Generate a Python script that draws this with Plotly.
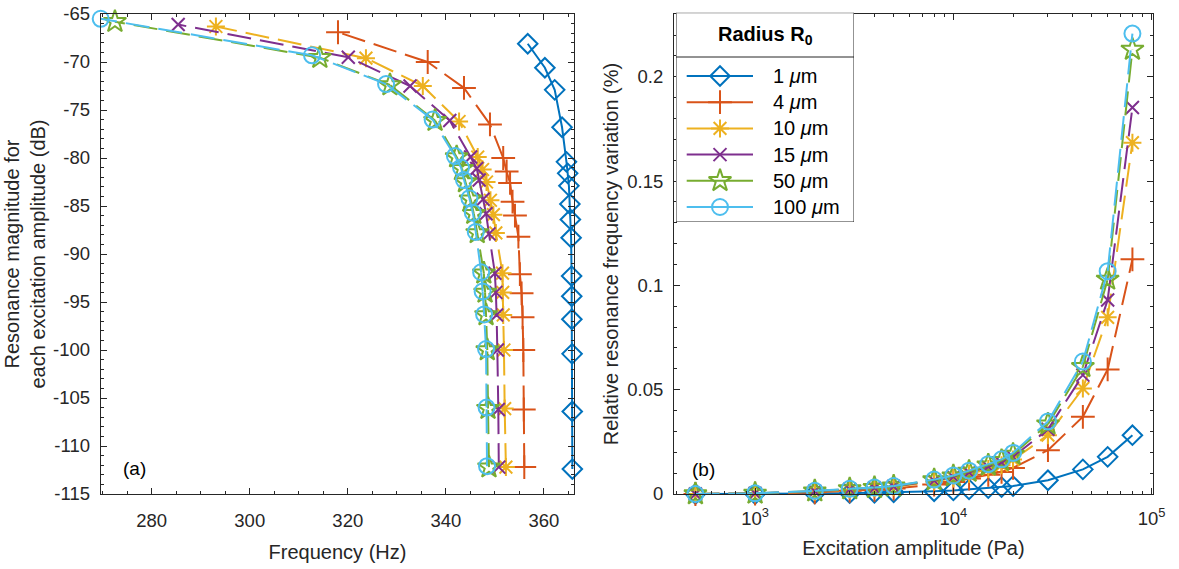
import plotly.graph_objects as go
import math

# ---------------- data ----------------
amplitudes = [500, 1000, 2000, 3000, 4000, 5000, 8000, 10000, 12000, 15000,
              17500, 20000, 30000, 45000, 60000, 80000]

series_names = ["1 <i>μ</i>m", "4 <i>μ</i>m", "10 <i>μ</i>m", "15 <i>μ</i>m",
                "50 <i>μ</i>m", "100 <i>μ</i>m"]
legend_title = "<b>Radius R<sub>0</sub></b>"

# (a) resonance frequency (Hz) and magnitude (dB) per excitation amplitude
freq_1um = [365.8, 365.78, 365.75, 365.7, 365.68, 365.65, 365.55, 365.4, 365.3, 365.1,
            364.85, 364.6, 363.7, 362.2, 360.2, 356.7]
mag_1um = [-112.4, -106.4, -100.4, -96.8, -94.4, -92.3, -88.3, -86.4, -84.8, -82.9,
           -81.6, -80.4, -76.8, -72.9, -70.6, -68.1]
freq_4um = [356.0, 355.9, 355.8, 355.65, 355.45, 355.1, 354.8, 354.1, 353.6, 353.1,
            352.4, 351.7, 349.0, 343.7, 336.3, 318.0]
mag_4um = [-112.2, -106.2, -100.0, -96.6, -94.1, -92.1, -88.2, -86.0, -84.55, -82.6,
           -81.4, -80.0, -76.5, -72.7, -70.0, -66.9]
freq_10um = [352.25, 352.0, 351.85, 351.7, 351.6, 351.55, 350.2, 349.7, 349.1, 348.3,
             347.5, 346.5, 342.7, 335.3, 323.7, 293.1]
mag_10um = [-112.2, -106.1, -100.0, -96.35, -94.0, -92.0, -87.8, -85.9, -84.4, -82.5,
            -81.2, -79.9, -76.2, -72.5, -69.6, -66.3]
freq_15um = [350.8, 350.7, 350.5, 350.35, 350.2, 350.0, 348.8, 348.2, 347.6, 346.8,
             346.3, 345.05, 340.8, 332.7, 320.1, 285.4]
mag_15um = [-112.2, -106.2, -100.0, -96.35, -94.0, -92.0, -87.9, -85.8, -84.3, -82.3,
            -81.1, -79.9, -76.1, -72.5, -69.5, -66.1]
freq_50um = [348.8, 348.6, 348.45, 348.2, 348.0, 347.75, 346.4, 345.7, 345.05, 344.0,
             343.3, 342.2, 337.8, 328.6, 314.3, 272.5]
mag_50um = [-112.2, -106.1, -100.0, -96.35, -94.0, -92.0, -87.8, -85.8, -84.3, -82.5,
            -81.1, -79.9, -76.1, -72.4, -69.55, -65.8]
freq_100um = [348.4, 348.3, 348.2, 347.8, 347.5, 347.2, 346.1, 345.5, 344.8, 343.7,
              343.1, 341.85, 337.3, 327.8, 312.7, 269.6]
mag_100um = [-112.1, -106.0, -99.9, -96.3, -93.9, -91.9, -87.7, -85.7, -84.2, -82.3,
             -81.0, -79.8, -76.0, -72.3, -69.3, -65.5]

# (b) relative resonance frequency variation
var_1um = [0, 0, 0.0002, 0.0004, 0.0006, 0.0008, 0.0013, 0.0017, 0.0022, 0.0028,
           0.0033, 0.0038, 0.0066, 0.0118, 0.0178, 0.0282]
var_4um = [0, 0.0002, 0.0008, 0.0015, 0.002, 0.0026, 0.0045, 0.0058, 0.0074, 0.0092,
           0.0106, 0.0125, 0.021, 0.037, 0.0597, 0.1125]
var_10um = [0, 0.0003, 0.0011, 0.002, 0.0027, 0.0034, 0.006, 0.0077, 0.0096, 0.012,
            0.0138, 0.0165, 0.0282, 0.0506, 0.0847, 0.1684]
var_15um = [0, 0.0003, 0.0013, 0.0022, 0.0029, 0.0036, 0.0064, 0.0082, 0.0103, 0.013,
            0.015, 0.0178, 0.031, 0.057, 0.093, 0.1853]
var_50um = [0, 0.0003, 0.0014, 0.0024, 0.003, 0.0037, 0.0067, 0.0086, 0.0108, 0.0138,
            0.016, 0.019, 0.0335, 0.061, 0.1029, 0.2131]
var_100um = [0, 0.0003, 0.0015, 0.0025, 0.0031, 0.0038, 0.0069, 0.0089, 0.0112, 0.0143,
             0.0166, 0.0197, 0.0348, 0.0635, 0.1068, 0.2207]

freq_ticks = [280, 300, 320, 340, 360]
mag_ticks = [-115, -110, -105, -100, -95, -90, -85, -80, -75, -70, -65]
amp_ticks = [1e3, 1e4, 1e5]
amp_tick_text = ["10<sup>3</sup>", "10<sup>4</sup>", "10<sup>5</sup>"]
var_ticks = [0, 0.05, 0.1, 0.15, 0.2]
var_tick_text = ["0", "0.05", "0.1", "0.15", "0.2"]

# ---------------- style ----------------
colors = ["#0072BD", "#D95319", "#EDB120", "#7E2F8E", "#77AC30", "#4DBEEE"]
symbols = ["diamond-open", "cross-thin-open", "asterisk-open", "x-thin-open",
           "star-open", "circle-open"]
msizes = [15, 17, 15, 13, 17, 16]
dashed = [False, True, True, True, True, True]

freqs = [freq_1um, freq_4um, freq_10um, freq_15um, freq_50um, freq_100um]
mags = [mag_1um, mag_4um, mag_10um, mag_15um, mag_50um, mag_100um]
vars_ = [var_1um, var_4um, var_10um, var_15um, var_50um, var_100um]

FONT = "Liberation Sans, Arial, Helvetica, sans-serif"
AX = "#262626"
LW = 2
DASH = "24px,9px"
TICK_SIZE = 18.5
W, H = 1179, 569

# legend box layout (pixel units of the figure)
LEG_BOX = (676, 854, 12.7, 222)      # left, right, top, bottom
LEG_SEP = 57
LEG_ROW0, LEG_ROWSTEP = 76, 26.2
LEG_LINE = (686.7, 753, 720)          # sample start, end, marker
LEG_TEXT_X = 771

fig = go.Figure()


def add_series(xs, ys, i, xa, ya):
    c = colors[i]
    if dashed[i]:
        for k in range(len(xs) - 1):
            fig.add_trace(go.Scatter(
                x=xs[k:k + 2], y=ys[k:k + 2], mode="lines", xaxis=xa, yaxis=ya,
                line=dict(color=c, width=LW, dash=DASH),
                showlegend=False, hoverinfo="skip"))
    else:
        fig.add_trace(go.Scatter(
            x=xs, y=ys, mode="lines", xaxis=xa, yaxis=ya,
            line=dict(color=c, width=LW), showlegend=False, hoverinfo="skip"))
    fig.add_trace(go.Scatter(
        x=xs, y=ys, mode="markers", xaxis=xa, yaxis=ya, cliponaxis=False,
        marker=dict(symbol=symbols[i], size=msizes[i], color=c,
                    line=dict(color=c, width=2)),
        showlegend=False, hoverinfo="skip"))


for i in range(6):
    add_series(freqs[i], mags[i], i, "x", "y")
for i in range(6):
    add_series(amplitudes, vars_[i], i, "x2", "y2")

# ---- legend (drawn as a boxed key on an overlay axis in pixel units) ----
annotations = [
    dict(text="(a)", xref="x domain", yref="y domain", x=0.0724, y=0.054,
         xanchor="center", yanchor="middle",
         showarrow=False, font=dict(family=FONT, size=19, color="black")),
    dict(text="(b)", xref="x2 domain", yref="y2 domain", x=0.061, y=0.05,
         xanchor="center", yanchor="middle",
         showarrow=False, font=dict(family=FONT, size=19, color="black")),
    dict(text=legend_title, xref="x3", yref="y3",
         x=(LEG_BOX[0] + LEG_BOX[1]) / 2, y=(LEG_BOX[2] + LEG_SEP) / 2 + 1,
         xanchor="center", yanchor="middle", showarrow=False,
         font=dict(family=FONT, size=20, color="black")),
]
for i in range(6):
    row = LEG_ROW0 + i * LEG_ROWSTEP
    fig.add_trace(go.Scatter(
        x=[LEG_LINE[0], LEG_LINE[1]], y=[row, row], mode="lines",
        xaxis="x3", yaxis="y3", line=dict(color=colors[i], width=LW),
        showlegend=False, hoverinfo="skip"))
    fig.add_trace(go.Scatter(
        x=[LEG_LINE[2]], y=[row], mode="markers", xaxis="x3", yaxis="y3",
        cliponaxis=False,
        marker=dict(symbol=symbols[i], size=msizes[i], color=colors[i],
                    line=dict(color=colors[i], width=2)),
        showlegend=False, hoverinfo="skip"))
    annotations.append(dict(
        text=series_names[i], xref="x3", yref="y3", x=LEG_TEXT_X, y=row,
        xanchor="left", yanchor="middle", showarrow=False,
        font=dict(family=FONT, size=20, color="black")))

shapes = [
    dict(type="rect", xref="x3", yref="y3", x0=LEG_BOX[0], x1=LEG_BOX[1],
         y0=LEG_BOX[2], y1=LEG_BOX[3], fillcolor="white",
         line=dict(color=AX, width=1), layer="below"),
    dict(type="line", xref="x3", yref="y3", x0=LEG_BOX[0], x1=LEG_BOX[1],
         y0=LEG_SEP, y1=LEG_SEP, line=dict(color=AX, width=1), layer="below"),
]

L_x0, L_x1 = 100.7 / W, 574.3 / W
R_x0, R_x1 = 674 / W, 1153 / W
Y0, Y1 = 1 - 494 / H, 1 - 14 / H

common = dict(showline=True, linecolor=AX, linewidth=1, mirror="ticks",
              ticks="inside", ticklen=6, tickcolor=AX, showgrid=False,
              zeroline=False, tickfont=dict(family=FONT, size=TICK_SIZE, color=AX),
              automargin=False)

fig.update_layout(
    width=W, height=H,
    margin=dict(l=0, r=0, t=0, b=0),
    paper_bgcolor="white", plot_bgcolor="white",
    font=dict(family=FONT, color=AX),
    showlegend=False,
    xaxis=dict(domain=[L_x0, L_x1], range=[269.6, 366.2], anchor="y",
               tickvals=freq_ticks, ticktext=[str(v) for v in freq_ticks],
               minor=dict(ticks="inside", ticklen=3, dtick=5, tickcolor=AX),
               ticklabelstandoff=10,
               title=dict(text="Frequency (Hz)", font=dict(size=20, color=AX), standoff=14),
               **common),
    yaxis=dict(domain=[Y0, Y1], range=[-115, -65], anchor="x",
               tickvals=mag_ticks, ticktext=[str(v) for v in mag_ticks],
               minor=dict(ticks="inside", ticklen=3, dtick=1, tickcolor=AX),
               ticklabelstandoff=6,
               title=dict(text="Resonance magnitude for<br>each excitation amplitude (dB)",
                          font=dict(size=20, color=AX), standoff=1),
               **common),
    xaxis2=dict(domain=[R_x0, R_x1], type="log", range=[math.log10(390), math.log10(101600)],
                anchor="y2",
                tickvals=amp_ticks, ticktext=amp_tick_text,
                minor=dict(ticks="inside", ticklen=3, dtick="D1", tickcolor=AX),
                ticklabelstandoff=8,
                title=dict(text="Excitation amplitude (Pa)", font=dict(size=20, color=AX), standoff=12),
                **common),
    yaxis2=dict(domain=[Y0, Y1], range=[0, 0.2301], anchor="x2",
                tickvals=var_ticks, ticktext=var_tick_text,
                minor=dict(ticks="inside", ticklen=3, dtick=0.01, tickcolor=AX),
                ticklabelstandoff=6,
                title=dict(text="Relative resonance frequency variation (%)",
                           font=dict(size=20, color=AX), standoff=3),
                **common),
    xaxis3=dict(domain=[LEG_BOX[0] / W, LEG_BOX[1] / W], range=[LEG_BOX[0], LEG_BOX[1]],
                visible=False, fixedrange=True, anchor="y3"),
    yaxis3=dict(domain=[1 - LEG_BOX[3] / H, 1 - LEG_BOX[2] / H],
                range=[LEG_BOX[3], LEG_BOX[2]], visible=False, fixedrange=True,
                anchor="x3"),
    annotations=annotations,
    shapes=shapes,
)

fig.write_html("out.html", config={"displayModeBar": False},
               post_script="document.body.style.margin='0';")
